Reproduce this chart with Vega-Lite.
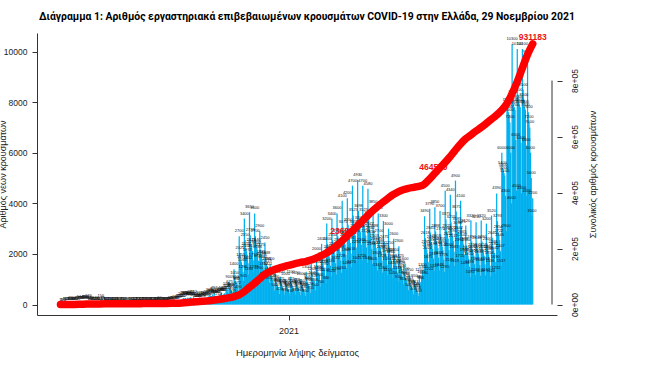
{
"$schema": "https://vega.github.io/schema/vega-lite/v6.json",
"autosize": "none",
"padding": {"left": 37, "top": 33, "right": 103, "bottom": 58},
"width": 520,
"height": 282,
"background": "white",
"title": {"text": "Διάγραμμα 1: Αριθμός εργαστηριακά επιβεβαιωμένων κρουσμάτων COVID-19 στην Ελλάδα, 29 Νοεμβρίου 2021", "anchor": "start", "frame": "group", "font": "Liberation Sans Narrow, Roboto, sans-serif", "fontSize": 10.4, "fontWeight": "bold", "color": "#000000", "offset": 10, "dx": 2},
"config": {"view": {"stroke": null}, "axis": {"labelFont": "Liberation Sans", "titleFont": "Liberation Sans", "labelColor": "#222222", "titleColor": "#222222", "domainColor": "#333333", "tickColor": "#333333", "grid": false, "titleFontWeight": "normal"}},
"datasets": {
"daily": [
{"d":"2020-02-26","v":1},{"d":"2020-02-27","v":1},{"d":"2020-02-28","v":1},{"d":"2020-02-29","v":0},{"d":"2020-03-01","v":4},
{"d":"2020-03-02","v":3},{"d":"2020-03-03","v":2},{"d":"2020-03-04","v":2},{"d":"2020-03-05","v":22},{"d":"2020-03-06","v":14},{"d":"2020-03-07","v":28},{"d":"2020-03-08","v":5},
{"d":"2020-03-09","v":17},{"d":"2020-03-10","v":45},{"d":"2020-03-11","v":10},{"d":"2020-03-12","v":18},{"d":"2020-03-13","v":40},{"d":"2020-03-14","v":38},{"d":"2020-03-15","v":60},
{"d":"2020-03-16","v":21},{"d":"2020-03-17","v":35},{"d":"2020-03-18","v":31},{"d":"2020-03-19","v":46},{"d":"2020-03-20","v":77},{"d":"2020-03-21","v":35},{"d":"2020-03-22","v":94},
{"d":"2020-03-23","v":71},{"d":"2020-03-24","v":48},{"d":"2020-03-25","v":78},{"d":"2020-03-26","v":71},{"d":"2020-03-27","v":74},{"d":"2020-03-28","v":74},{"d":"2020-03-29","v":95},
{"d":"2020-03-30","v":102},{"d":"2020-03-31","v":100},{"d":"2020-04-01","v":102},{"d":"2020-04-02","v":65},{"d":"2020-04-03","v":60},{"d":"2020-04-04","v":129},{"d":"2020-04-05","v":62},
{"d":"2020-04-06","v":20},{"d":"2020-04-07","v":40},{"d":"2020-04-08","v":60},{"d":"2020-04-09","v":56},{"d":"2020-04-10","v":25},{"d":"2020-04-11","v":22},{"d":"2020-04-12","v":21},
{"d":"2020-04-13","v":19},{"d":"2020-04-14","v":24},{"d":"2020-04-15","v":70},{"d":"2020-04-16","v":25},{"d":"2020-04-17","v":22},{"d":"2020-04-18","v":10},{"d":"2020-04-19","v":10},
{"d":"2020-04-20","v":12},{"d":"2020-04-21","v":156},{"d":"2020-04-22","v":2},{"d":"2020-04-23","v":75},{"d":"2020-04-24","v":17},{"d":"2020-04-25","v":25},{"d":"2020-04-26","v":9},
{"d":"2020-04-27","v":11},{"d":"2020-04-28","v":18},{"d":"2020-04-29","v":12},{"d":"2020-04-30","v":12},{"d":"2020-05-01","v":9},{"d":"2020-05-02","v":11},{"d":"2020-05-03","v":29},
{"d":"2020-05-04","v":6},{"d":"2020-05-05","v":13},{"d":"2020-05-06","v":4},{"d":"2020-05-07","v":10},{"d":"2020-05-08","v":10},{"d":"2020-05-09","v":14},{"d":"2020-05-10","v":17},
{"d":"2020-05-11","v":10},{"d":"2020-05-12","v":16},{"d":"2020-05-13","v":5},{"d":"2020-05-14","v":9},{"d":"2020-05-15","v":10},{"d":"2020-05-16","v":7},{"d":"2020-05-17","v":19},
{"d":"2020-05-18","v":4},{"d":"2020-05-19","v":8},{"d":"2020-05-20","v":21},{"d":"2020-05-21","v":3},{"d":"2020-05-22","v":10},{"d":"2020-05-23","v":6},{"d":"2020-05-24","v":8},
{"d":"2020-05-25","v":3},{"d":"2020-05-26","v":3},{"d":"2020-05-27","v":2},{"d":"2020-05-28","v":7},{"d":"2020-05-29","v":4},{"d":"2020-05-30","v":6},{"d":"2020-05-31","v":9},
{"d":"2020-06-01","v":1},{"d":"2020-06-02","v":20},{"d":"2020-06-03","v":15},{"d":"2020-06-04","v":10},{"d":"2020-06-05","v":22},{"d":"2020-06-06","v":12},{"d":"2020-06-07","v":13},
{"d":"2020-06-08","v":4},{"d":"2020-06-09","v":7},{"d":"2020-06-10","v":12},{"d":"2020-06-11","v":16},{"d":"2020-06-12","v":10},{"d":"2020-06-13","v":25},{"d":"2020-06-14","v":17},
{"d":"2020-06-15","v":13},{"d":"2020-06-16","v":19},{"d":"2020-06-17","v":7},{"d":"2020-06-18","v":14},{"d":"2020-06-19","v":27},{"d":"2020-06-20","v":24},{"d":"2020-06-21","v":30},
{"d":"2020-06-22","v":22},{"d":"2020-06-23","v":10},{"d":"2020-06-24","v":14},{"d":"2020-06-25","v":16},{"d":"2020-06-26","v":19},{"d":"2020-06-27","v":24},{"d":"2020-06-28","v":8},
{"d":"2020-06-29","v":25},{"d":"2020-06-30","v":12},{"d":"2020-07-01","v":19},{"d":"2020-07-02","v":14},{"d":"2020-07-03","v":21},{"d":"2020-07-04","v":30},{"d":"2020-07-05","v":26},
{"d":"2020-07-06","v":18},{"d":"2020-07-07","v":26},{"d":"2020-07-08","v":39},{"d":"2020-07-09","v":35},{"d":"2020-07-10","v":50},{"d":"2020-07-11","v":12},{"d":"2020-07-12","v":41},
{"d":"2020-07-13","v":19},{"d":"2020-07-14","v":38},{"d":"2020-07-15","v":24},{"d":"2020-07-16","v":36},{"d":"2020-07-17","v":16},{"d":"2020-07-18","v":29},{"d":"2020-07-19","v":26},
{"d":"2020-07-20","v":22},{"d":"2020-07-21","v":33},{"d":"2020-07-22","v":39},{"d":"2020-07-23","v":29},{"d":"2020-07-24","v":54},{"d":"2020-07-25","v":43},{"d":"2020-07-26","v":45},
{"d":"2020-07-27","v":25},{"d":"2020-07-28","v":57},{"d":"2020-07-29","v":37},{"d":"2020-07-30","v":78},{"d":"2020-07-31","v":110},{"d":"2020-08-01","v":75},{"d":"2020-08-02","v":51},
{"d":"2020-08-03","v":79},{"d":"2020-08-04","v":110},{"d":"2020-08-05","v":121},{"d":"2020-08-06","v":152},{"d":"2020-08-07","v":153},{"d":"2020-08-08","v":203},{"d":"2020-08-09","v":151},
{"d":"2020-08-10","v":150},{"d":"2020-08-11","v":262},{"d":"2020-08-12","v":262},{"d":"2020-08-13","v":204},{"d":"2020-08-14","v":254},{"d":"2020-08-15","v":230},{"d":"2020-08-16","v":217},
{"d":"2020-08-17","v":269},{"d":"2020-08-18","v":193},{"d":"2020-08-19","v":269},{"d":"2020-08-20","v":235},{"d":"2020-08-21","v":284},{"d":"2020-08-22","v":226},{"d":"2020-08-23","v":208},
{"d":"2020-08-24","v":202},{"d":"2020-08-25","v":293},{"d":"2020-08-26","v":168},{"d":"2020-08-27","v":201},{"d":"2020-08-28","v":141},{"d":"2020-08-29","v":157},{"d":"2020-08-30","v":149},
{"d":"2020-08-31","v":135},{"d":"2020-09-01","v":153},{"d":"2020-09-02","v":275},{"d":"2020-09-03","v":169},{"d":"2020-09-04","v":201},{"d":"2020-09-05","v":174},{"d":"2020-09-06","v":156},
{"d":"2020-09-07","v":223},{"d":"2020-09-08","v":268},{"d":"2020-09-09","v":167},{"d":"2020-09-10","v":278},{"d":"2020-09-11","v":210},{"d":"2020-09-12","v":297},{"d":"2020-09-13","v":178},
{"d":"2020-09-14","v":225},{"d":"2020-09-15","v":366},{"d":"2020-09-16","v":318},{"d":"2020-09-17","v":339},{"d":"2020-09-18","v":338},{"d":"2020-09-19","v":260},{"d":"2020-09-20","v":409},
{"d":"2020-09-21","v":318},{"d":"2020-09-22","v":453},{"d":"2020-09-23","v":342},{"d":"2020-09-24","v":306},{"d":"2020-09-25","v":293},{"d":"2020-09-26","v":301},{"d":"2020-09-27","v":326},
{"d":"2020-09-28","v":218},{"d":"2020-09-29","v":358},{"d":"2020-09-30","v":412},{"d":"2020-10-01","v":393},{"d":"2020-10-02","v":460},{"d":"2020-10-03","v":362},{"d":"2020-10-04","v":362},
{"d":"2020-10-05","v":411},{"d":"2020-10-06","v":447},{"d":"2020-10-07","v":361},{"d":"2020-10-08","v":528},{"d":"2020-10-09","v":599},{"d":"2020-10-10","v":522},{"d":"2020-10-11","v":453},
{"d":"2020-10-12","v":900},{"d":"2020-10-13","v":675},{"d":"2020-10-14","v":585},{"d":"2020-10-15","v":558},{"d":"2020-10-16","v":522},{"d":"2020-10-17","v":432},{"d":"2020-10-18","v":315},
{"d":"2020-10-19","v":1400},{"d":"2020-10-20","v":1050},{"d":"2020-10-21","v":910},{"d":"2020-10-22","v":868},{"d":"2020-10-23","v":812},{"d":"2020-10-24","v":672},{"d":"2020-10-25","v":490},
{"d":"2020-10-26","v":2700},{"d":"2020-10-27","v":2025},{"d":"2020-10-28","v":1755},{"d":"2020-10-29","v":1674},{"d":"2020-10-30","v":1566},{"d":"2020-10-31","v":1296},{"d":"2020-11-01","v":945},
{"d":"2020-11-02","v":3400},{"d":"2020-11-03","v":2550},{"d":"2020-11-04","v":2210},{"d":"2020-11-05","v":2108},{"d":"2020-11-06","v":1972},{"d":"2020-11-07","v":1632},{"d":"2020-11-08","v":1190},
{"d":"2020-11-09","v":3650},{"d":"2020-11-10","v":2738},{"d":"2020-11-11","v":2373},{"d":"2020-11-12","v":2263},{"d":"2020-11-13","v":2117},{"d":"2020-11-14","v":1752},{"d":"2020-11-15","v":1278},
{"d":"2020-11-16","v":3600},{"d":"2020-11-17","v":2700},{"d":"2020-11-18","v":2340},{"d":"2020-11-19","v":2232},{"d":"2020-11-20","v":2088},{"d":"2020-11-21","v":1728},{"d":"2020-11-22","v":1260},
{"d":"2020-11-23","v":2900},{"d":"2020-11-24","v":2175},{"d":"2020-11-25","v":1885},{"d":"2020-11-26","v":1798},{"d":"2020-11-27","v":1682},{"d":"2020-11-28","v":1392},{"d":"2020-11-29","v":1015},
{"d":"2020-11-30","v":2450},{"d":"2020-12-01","v":1838},{"d":"2020-12-02","v":1593},{"d":"2020-12-03","v":1519},{"d":"2020-12-04","v":1421},{"d":"2020-12-05","v":1176},{"d":"2020-12-06","v":858},
{"d":"2020-12-07","v":1600},{"d":"2020-12-08","v":1200},{"d":"2020-12-09","v":1040},{"d":"2020-12-10","v":992},{"d":"2020-12-11","v":928},{"d":"2020-12-12","v":768},{"d":"2020-12-13","v":560},
{"d":"2020-12-14","v":1200},{"d":"2020-12-15","v":900},{"d":"2020-12-16","v":780},{"d":"2020-12-17","v":744},{"d":"2020-12-18","v":696},{"d":"2020-12-19","v":576},{"d":"2020-12-20","v":420},
{"d":"2020-12-21","v":1100},{"d":"2020-12-22","v":825},{"d":"2020-12-23","v":715},{"d":"2020-12-24","v":682},{"d":"2020-12-25","v":638},{"d":"2020-12-26","v":528},{"d":"2020-12-27","v":385},
{"d":"2020-12-28","v":1000},{"d":"2020-12-29","v":750},{"d":"2020-12-30","v":650},{"d":"2020-12-31","v":620},{"d":"2021-01-01","v":580},{"d":"2021-01-02","v":480},{"d":"2021-01-03","v":350},
{"d":"2021-01-04","v":1100},{"d":"2021-01-05","v":825},{"d":"2021-01-06","v":715},{"d":"2021-01-07","v":682},{"d":"2021-01-08","v":638},{"d":"2021-01-09","v":528},{"d":"2021-01-10","v":385},
{"d":"2021-01-11","v":1050},{"d":"2021-01-12","v":788},{"d":"2021-01-13","v":683},{"d":"2021-01-14","v":651},{"d":"2021-01-15","v":609},{"d":"2021-01-16","v":504},{"d":"2021-01-17","v":368},
{"d":"2021-01-18","v":1000},{"d":"2021-01-19","v":750},{"d":"2021-01-20","v":650},{"d":"2021-01-21","v":620},{"d":"2021-01-22","v":580},{"d":"2021-01-23","v":480},{"d":"2021-01-24","v":350},
{"d":"2021-01-25","v":1300},{"d":"2021-01-26","v":975},{"d":"2021-01-27","v":845},{"d":"2021-01-28","v":806},{"d":"2021-01-29","v":754},{"d":"2021-01-30","v":624},{"d":"2021-01-31","v":455},
{"d":"2021-02-01","v":1600},{"d":"2021-02-02","v":1200},{"d":"2021-02-03","v":1040},{"d":"2021-02-04","v":992},{"d":"2021-02-05","v":928},{"d":"2021-02-06","v":768},{"d":"2021-02-07","v":560},
{"d":"2021-02-08","v":2000},{"d":"2021-02-09","v":1500},{"d":"2021-02-10","v":1300},{"d":"2021-02-11","v":1240},{"d":"2021-02-12","v":1160},{"d":"2021-02-13","v":960},{"d":"2021-02-14","v":700},
{"d":"2021-02-15","v":2400},{"d":"2021-02-16","v":1800},{"d":"2021-02-17","v":1560},{"d":"2021-02-18","v":1488},{"d":"2021-02-19","v":1392},{"d":"2021-02-20","v":1152},{"d":"2021-02-21","v":840},
{"d":"2021-02-22","v":3200},{"d":"2021-02-23","v":2400},{"d":"2021-02-24","v":2080},{"d":"2021-02-25","v":1984},{"d":"2021-02-26","v":1856},{"d":"2021-02-27","v":1536},{"d":"2021-02-28","v":1120},
{"d":"2021-03-01","v":3400},{"d":"2021-03-02","v":2550},{"d":"2021-03-03","v":2210},{"d":"2021-03-04","v":2108},{"d":"2021-03-05","v":1972},{"d":"2021-03-06","v":1632},{"d":"2021-03-07","v":1190},
{"d":"2021-03-08","v":3600},{"d":"2021-03-09","v":2700},{"d":"2021-03-10","v":2340},{"d":"2021-03-11","v":2232},{"d":"2021-03-12","v":2088},{"d":"2021-03-13","v":1728},{"d":"2021-03-14","v":1260},
{"d":"2021-03-15","v":4100},{"d":"2021-03-16","v":3075},{"d":"2021-03-17","v":2665},{"d":"2021-03-18","v":2542},{"d":"2021-03-19","v":2378},{"d":"2021-03-20","v":1968},{"d":"2021-03-21","v":1435},
{"d":"2021-03-22","v":4200},{"d":"2021-03-23","v":3150},{"d":"2021-03-24","v":2730},{"d":"2021-03-25","v":2604},{"d":"2021-03-26","v":2436},{"d":"2021-03-27","v":2016},{"d":"2021-03-28","v":1470},
{"d":"2021-03-29","v":4700},{"d":"2021-03-30","v":3525},{"d":"2021-03-31","v":3055},{"d":"2021-04-01","v":2914},{"d":"2021-04-02","v":2726},{"d":"2021-04-03","v":2256},{"d":"2021-04-04","v":1645},
{"d":"2021-04-05","v":4930},{"d":"2021-04-06","v":3698},{"d":"2021-04-07","v":3205},{"d":"2021-04-08","v":3057},{"d":"2021-04-09","v":2859},{"d":"2021-04-10","v":2366},{"d":"2021-04-11","v":1726},
{"d":"2021-04-12","v":4700},{"d":"2021-04-13","v":3525},{"d":"2021-04-14","v":3055},{"d":"2021-04-15","v":2914},{"d":"2021-04-16","v":2726},{"d":"2021-04-17","v":2256},{"d":"2021-04-18","v":1645},
{"d":"2021-04-19","v":4580},{"d":"2021-04-20","v":3435},{"d":"2021-04-21","v":2977},{"d":"2021-04-22","v":2840},{"d":"2021-04-23","v":2656},{"d":"2021-04-24","v":2198},{"d":"2021-04-25","v":1603},
{"d":"2021-04-26","v":3850},{"d":"2021-04-27","v":2888},{"d":"2021-04-28","v":2503},{"d":"2021-04-29","v":2387},{"d":"2021-04-30","v":2233},{"d":"2021-05-01","v":1848},{"d":"2021-05-02","v":1348},
{"d":"2021-05-03","v":3600},{"d":"2021-05-04","v":2700},{"d":"2021-05-05","v":2340},{"d":"2021-05-06","v":2232},{"d":"2021-05-07","v":2088},{"d":"2021-05-08","v":1728},{"d":"2021-05-09","v":1260},
{"d":"2021-05-10","v":3300},{"d":"2021-05-11","v":2475},{"d":"2021-05-12","v":2145},{"d":"2021-05-13","v":2046},{"d":"2021-05-14","v":1914},{"d":"2021-05-15","v":1584},{"d":"2021-05-16","v":1155},
{"d":"2021-05-17","v":3000},{"d":"2021-05-18","v":2250},{"d":"2021-05-19","v":1950},{"d":"2021-05-20","v":1860},{"d":"2021-05-21","v":1740},{"d":"2021-05-22","v":1440},{"d":"2021-05-23","v":1050},
{"d":"2021-05-24","v":2600},{"d":"2021-05-25","v":1950},{"d":"2021-05-26","v":1690},{"d":"2021-05-27","v":1612},{"d":"2021-05-28","v":1508},{"d":"2021-05-29","v":1248},{"d":"2021-05-30","v":910},
{"d":"2021-05-31","v":2300},{"d":"2021-06-01","v":1725},{"d":"2021-06-02","v":1495},{"d":"2021-06-03","v":1426},{"d":"2021-06-04","v":1334},{"d":"2021-06-05","v":1104},{"d":"2021-06-06","v":805},
{"d":"2021-06-07","v":1600},{"d":"2021-06-08","v":1200},{"d":"2021-06-09","v":1040},{"d":"2021-06-10","v":992},{"d":"2021-06-11","v":928},{"d":"2021-06-12","v":768},{"d":"2021-06-13","v":560},
{"d":"2021-06-14","v":1150},{"d":"2021-06-15","v":863},{"d":"2021-06-16","v":748},{"d":"2021-06-17","v":713},{"d":"2021-06-18","v":667},{"d":"2021-06-19","v":552},{"d":"2021-06-20","v":403},
{"d":"2021-06-21","v":950},{"d":"2021-06-22","v":713},{"d":"2021-06-23","v":618},{"d":"2021-06-24","v":589},{"d":"2021-06-25","v":551},{"d":"2021-06-26","v":456},{"d":"2021-06-27","v":333},
{"d":"2021-06-28","v":1150},{"d":"2021-06-29","v":880},{"d":"2021-06-30","v":860},{"d":"2021-07-01","v":1070},{"d":"2021-07-02","v":1350},{"d":"2021-07-03","v":1300},{"d":"2021-07-04","v":1050},
{"d":"2021-07-05","v":3490},{"d":"2021-07-06","v":2618},{"d":"2021-07-07","v":2269},{"d":"2021-07-08","v":2164},{"d":"2021-07-09","v":2024},{"d":"2021-07-10","v":1675},{"d":"2021-07-11","v":1222},
{"d":"2021-07-12","v":3790},{"d":"2021-07-13","v":2843},{"d":"2021-07-14","v":2464},{"d":"2021-07-15","v":2350},{"d":"2021-07-16","v":2198},{"d":"2021-07-17","v":1819},{"d":"2021-07-18","v":1327},
{"d":"2021-07-19","v":3850},{"d":"2021-07-20","v":2888},{"d":"2021-07-21","v":2503},{"d":"2021-07-22","v":2387},{"d":"2021-07-23","v":2233},{"d":"2021-07-24","v":1848},{"d":"2021-07-25","v":1348},
{"d":"2021-07-26","v":3700},{"d":"2021-07-27","v":2775},{"d":"2021-07-28","v":2405},{"d":"2021-07-29","v":2294},{"d":"2021-07-30","v":2146},{"d":"2021-07-31","v":1776},{"d":"2021-08-01","v":1295},
{"d":"2021-08-02","v":4500},{"d":"2021-08-03","v":3375},{"d":"2021-08-04","v":2925},{"d":"2021-08-05","v":2790},{"d":"2021-08-06","v":2610},{"d":"2021-08-07","v":2160},{"d":"2021-08-08","v":1575},
{"d":"2021-08-09","v":4340},{"d":"2021-08-10","v":3255},{"d":"2021-08-11","v":2821},{"d":"2021-08-12","v":2691},{"d":"2021-08-13","v":2517},{"d":"2021-08-14","v":2083},{"d":"2021-08-15","v":1519},
{"d":"2021-08-16","v":4900},{"d":"2021-08-17","v":3675},{"d":"2021-08-18","v":3185},{"d":"2021-08-19","v":3038},{"d":"2021-08-20","v":2842},{"d":"2021-08-21","v":2352},{"d":"2021-08-22","v":1715},
{"d":"2021-08-23","v":4100},{"d":"2021-08-24","v":3075},{"d":"2021-08-25","v":2665},{"d":"2021-08-26","v":2542},{"d":"2021-08-27","v":2378},{"d":"2021-08-28","v":1968},{"d":"2021-08-29","v":1435},
{"d":"2021-08-30","v":3120},{"d":"2021-08-31","v":2340},{"d":"2021-09-01","v":2028},{"d":"2021-09-02","v":1934},{"d":"2021-09-03","v":1810},{"d":"2021-09-04","v":1498},{"d":"2021-09-05","v":1092},
{"d":"2021-09-06","v":3320},{"d":"2021-09-07","v":2490},{"d":"2021-09-08","v":2158},{"d":"2021-09-09","v":2058},{"d":"2021-09-10","v":1926},{"d":"2021-09-11","v":1594},{"d":"2021-09-12","v":1162},
{"d":"2021-09-13","v":3250},{"d":"2021-09-14","v":2438},{"d":"2021-09-15","v":2113},{"d":"2021-09-16","v":2015},{"d":"2021-09-17","v":1885},{"d":"2021-09-18","v":1560},{"d":"2021-09-19","v":1138},
{"d":"2021-09-20","v":3320},{"d":"2021-09-21","v":2490},{"d":"2021-09-22","v":2158},{"d":"2021-09-23","v":2058},{"d":"2021-09-24","v":1926},{"d":"2021-09-25","v":1594},{"d":"2021-09-26","v":1162},
{"d":"2021-09-27","v":3200},{"d":"2021-09-28","v":2400},{"d":"2021-09-29","v":2080},{"d":"2021-09-30","v":1984},{"d":"2021-10-01","v":1856},{"d":"2021-10-02","v":1536},{"d":"2021-10-03","v":1120},
{"d":"2021-10-04","v":3520},{"d":"2021-10-05","v":2640},{"d":"2021-10-06","v":2288},{"d":"2021-10-07","v":2182},{"d":"2021-10-08","v":2042},{"d":"2021-10-09","v":1690},{"d":"2021-10-10","v":1232},
{"d":"2021-10-11","v":4390},{"d":"2021-10-12","v":3293},{"d":"2021-10-13","v":2854},{"d":"2021-10-14","v":2722},{"d":"2021-10-15","v":2546},{"d":"2021-10-16","v":2107},{"d":"2021-10-17","v":1537},
{"d":"2021-10-18","v":6000},{"d":"2021-10-19","v":5400},{"d":"2021-10-20","v":5300},{"d":"2021-10-21","v":5200},{"d":"2021-10-22","v":5100},{"d":"2021-10-23","v":4300},{"d":"2021-10-24","v":2900},
{"d":"2021-10-25","v":7900},{"d":"2021-10-26","v":7800},{"d":"2021-10-27","v":7600},{"d":"2021-10-28","v":7500},{"d":"2021-10-29","v":7200},{"d":"2021-10-30","v":6000},{"d":"2021-10-31","v":4000},
{"d":"2021-11-01","v":10300},{"d":"2021-11-02","v":8200},{"d":"2021-11-03","v":7900},{"d":"2021-11-04","v":7800},{"d":"2021-11-05","v":7700},{"d":"2021-11-06","v":6500},{"d":"2021-11-07","v":4500},
{"d":"2021-11-08","v":10100},{"d":"2021-11-09","v":8300},{"d":"2021-11-10","v":8000},{"d":"2021-11-11","v":7900},{"d":"2021-11-12","v":7800},{"d":"2021-11-13","v":6400},{"d":"2021-11-14","v":4400},
{"d":"2021-11-15","v":10100},{"d":"2021-11-16","v":8500},{"d":"2021-11-17","v":8100},{"d":"2021-11-18","v":7800},{"d":"2021-11-19","v":7700},{"d":"2021-11-20","v":6300},{"d":"2021-11-21","v":4300},
{"d":"2021-11-22","v":9800},{"d":"2021-11-23","v":7600},{"d":"2021-11-24","v":7200},{"d":"2021-11-25","v":7000},{"d":"2021-11-26","v":6000},{"d":"2021-11-27","v":5000},{"d":"2021-11-28","v":3500},
{"d":"2021-11-29","v":4200}
],
"cum": [
{"d":"2020-02-26","c":1},{"d":"2020-03-01","c":7},{"d":"2020-03-08","c":73},{"d":"2020-03-15","c":331},{"d":"2020-03-22","c":624},{"d":"2020-03-29","c":1156},{"d":"2020-04-05","c":1735},{"d":"2020-04-12","c":2114},{"d":"2020-04-19","c":2235},{"d":"2020-04-26","c":2517},{"d":"2020-05-03","c":2626},{"d":"2020-05-10","c":2710},{"d":"2020-05-17","c":2819},{"d":"2020-05-24","c":2873},{"d":"2020-05-31","c":2917},{"d":"2020-06-07","c":3049},{"d":"2020-06-14","c":3121},{"d":"2020-06-21","c":3266},{"d":"2020-06-28","c":3376},{"d":"2020-07-05","c":3511},{"d":"2020-07-12","c":3732},{"d":"2020-07-19","c":3939},{"d":"2020-07-26","c":4227},{"d":"2020-08-02","c":4662},{"d":"2020-08-09","c":5623},{"d":"2020-08-16","c":7075},{"d":"2020-08-23","c":8819},{"d":"2020-08-30","c":10124},{"d":"2020-09-06","c":11386},{"d":"2020-09-13","c":13005},{"d":"2020-09-20","c":15360},{"d":"2020-09-27","c":17707},{"d":"2020-10-04","c":20541},{"d":"2020-10-11","c":23469},{"d":"2020-10-18","c":27334},{"d":"2020-10-25","c":33177},{"d":"2020-11-01","c":44414},{"d":"2020-11-08","c":59775},{"d":"2020-11-15","c":74205},{"d":"2020-11-22","c":90121},{"d":"2020-11-29","c":106200},{"d":"2020-12-06","c":117000},{"d":"2020-12-13","c":125000},{"d":"2020-12-20","c":131000},{"d":"2020-12-27","c":136000},{"d":"2021-01-03","c":141000},{"d":"2021-01-10","c":146000},{"d":"2021-01-17","c":150500},{"d":"2021-01-24","c":153500},{"d":"2021-01-31","c":158700},{"d":"2021-02-07","c":165500},{"d":"2021-02-14","c":174000},{"d":"2021-02-21","c":183000},{"d":"2021-02-28","c":195000},{"d":"2021-03-07","c":209000},{"d":"2021-03-14","c":225000},{"d":"2021-03-21","c":244000},{"d":"2021-03-28","c":261000},{"d":"2021-04-04","c":279000},{"d":"2021-04-11","c":297000},{"d":"2021-04-18","c":316000},{"d":"2021-04-25","c":334000},{"d":"2021-05-02","c":350000},{"d":"2021-05-09","c":365000},{"d":"2021-05-16","c":379000},{"d":"2021-05-23","c":392000},{"d":"2021-05-30","c":402500},{"d":"2021-06-06","c":410000},{"d":"2021-06-13","c":415000},{"d":"2021-06-20","c":418500},{"d":"2021-06-27","c":422000},{"d":"2021-07-04","c":428500},{"d":"2021-07-11","c":446000},{"d":"2021-07-18","c":466000},{"d":"2021-07-25","c":486000},{"d":"2021-08-01","c":505000},{"d":"2021-08-08","c":526000},{"d":"2021-08-15","c":549000},{"d":"2021-08-22","c":571000},{"d":"2021-08-29","c":590000},{"d":"2021-09-05","c":604000},{"d":"2021-09-12","c":618000},{"d":"2021-09-19","c":631000},{"d":"2021-09-26","c":645000},{"d":"2021-10-03","c":660000},{"d":"2021-10-10","c":675000},{"d":"2021-10-17","c":692000},{"d":"2021-10-24","c":714000},{"d":"2021-10-31","c":748000},{"d":"2021-11-07","c":790000},{"d":"2021-11-14","c":838000},{"d":"2021-11-21","c":887000},{"d":"2021-11-29","c":931183}
],
"labs": [
{"d":"2021-03-18","c":236917,"lab":"236917"},{"d":"2021-07-17","c":464590,"lab":"464590"},{"d":"2021-11-29","c":931183,"lab":"931183"}
],
"rightline": [{"from":0,"to":800000}]
},
"layer": [
{
"data": {"name": "daily"},
"layer": [
{"mark": {"type": "bar", "color": "#00B0EE", "width": 1.25},
"encoding": {
"x": {"field": "d", "type": "temporal",
"scale": {"type": "utc", "domain": [{"year":2020,"month":1,"date":31,"hours":21,"minutes":36,"utc":true},{"year":2021,"month":12,"date":25,"hours":5,"utc":true}]},
"axis": {"values": [{"year":2021,"month":1,"date":1,"utc":true}], "format": "%Y", "tickSize": 5, "labelPadding": 6, "labelFontSize": 9, "labelFlush": false, "title": "Ημερομηνία λήψης δείγματος", "titleFontSize": 9.5, "titleY": 37, "titleBaseline": "middle"}},
"y": {"field": "v", "type": "quantitative",
"scale": {"domain": [-413, 10734], "nice": false, "zero": false},
"axis": {"values": [0,2000,4000,6000,8000,10000], "format": "d", "labelFontSize": 8.5, "tickSize": 5, "labelPadding": 5, "title": "Αριθμός νέων κρουσμάτων", "titleFontSize": 9, "titleAngle": -90, "titleX": -29.5, "titleY": 141, "titleAlign": "center", "titleBaseline": "bottom"}}
}},
{"mark": {"type": "text", "fontSize": 4, "color": "#111111", "baseline": "bottom", "dy": -3, "font": "Liberation Sans"},
"encoding": {
"x": {"field": "d", "type": "temporal"},
"y": {"field": "v", "type": "quantitative"},
"text": {"field": "v", "type": "quantitative", "format": "d"}
}}
]
},
{
"layer": [
{"data": {"name": "labs"},
"mark": {"type": "text", "fontSize": 8.5, "fontWeight": "bold", "color": "#EE1111", "baseline": "bottom", "dy": -2, "font": "Liberation Sans Narrow, Liberation Sans, sans-serif"},
"encoding": {
"x": {"field": "d", "type": "temporal"},
"y": {"field": "c", "type": "quantitative", "scale": {"domain": [-37500, 970000], "nice": false, "zero": false}},
"text": {"field": "lab", "type": "nominal"}
}},
{"data": {"name": "cum"},
"mark": {"type": "line", "color": "#FF0000", "strokeWidth": 7.5, "strokeCap": "round", "strokeJoin": "round", "interpolate": "monotone"},
"encoding": {
"x": {"field": "d", "type": "temporal"},
"y": {"field": "c", "type": "quantitative",
"axis": {"orient": "right", "domain": false, "values": [0,200000,400000,600000,800000], "labelExpr": "datum.value == 0 ? '0e+00' : (datum.value/100000) + 'e+05'", "labelAngle": -90, "labelAlign": "center", "labelBaseline": "middle", "labelPadding": 12, "labelFontSize": 8.5, "tickSize": 5, "title": "Συνολικός αριθμός κρουσμάτων", "titleFontSize": 9, "titleAngle": -90, "titleX": 35, "titleY": 141, "titleAlign": "center", "titleBaseline": "middle"}}
}},
{"data": {"name": "rightline"},
"mark": {"type": "rule", "color": "#333333", "strokeWidth": 1},
"encoding": {
"x": {"datum": {"year":2021,"month":12,"date":25,"hours":5,"utc":true}, "type": "temporal"},
"y": {"field": "from", "type": "quantitative"},
"y2": {"field": "to"}
}}
]
}
],
"resolve": {"scale": {"y": "independent"}, "axis": {"y": "independent"}}
}
